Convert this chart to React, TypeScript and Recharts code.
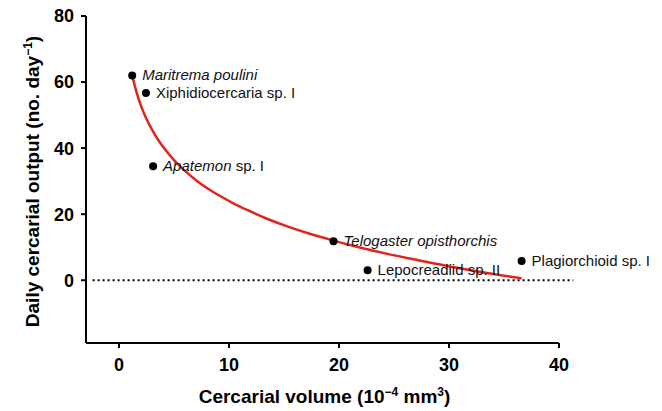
import React from "react";
import { ComposedChart, Line, Scatter, XAxis, YAxis, ReferenceLine } from "recharts";

// species points
const speciesItalic = ["Maritrema poulini", "", "Apatemon", "Telogaster opisthorchis", "", ""];
const speciesPlain = ["", "Xiphidiocercaria sp. I", " sp. I", "", "Lepocreadiid sp. II", "Plagiorchioid sp. I"];
const speciesVolume = [1.2, 2.45, 3.1, 19.5, 22.6, 36.6];
const speciesOutput = [62, 56.7, 34.5, 11.8, 3, 5.8];

// fitted curve
const curveVolume = [1.2, 1.4, 1.6, 1.85, 2.15, 2.5, 3.0, 3.6, 4.3, 5.1, 6.0, 7.0, 8.1, 9.2, 10.4, 11.7, 13.4, 15.3, 17.4, 19.5, 21.9, 24.5, 27.3, 30.2, 33.3, 36.6];
const curveOutput = [62, 59.3, 56.9, 54.2, 51.5, 48.8, 45.6, 42.3, 39.1, 36.0, 33.1, 30.3, 27.7, 25.5, 23.3, 21.2, 18.7, 16.3, 14.0, 12.0, 9.9, 7.9, 6.0, 4.1, 2.3, 0.6];

const xTicks = [0, 10, 20, 30, 40];
const yTicks = [0, 20, 40, 60, 80];

const FONT = '"Liberation Sans", Arial, Helvetica, sans-serif';

const points = speciesVolume.map((x, i) => ({
  x,
  y: speciesOutput[i],
  italic: speciesItalic[i],
  plain: speciesPlain[i],
}));
const curve = curveVolume.map((x, i) => ({ x, y: curveOutput[i] }));

function SpeciesDot(props: any) {
  const { cx, cy, payload } = props;
  return (
    <g>
      <circle cx={cx} cy={cy} r={4} fill="#000" />
      <text x={cx + 10} y={cy + 5} fontSize={15} fontFamily={FONT} fill="#111">
        {payload.italic && <tspan fontStyle="italic">{payload.italic}</tspan>}
        {payload.plain && <tspan>{payload.plain}</tspan>}
      </text>
    </g>
  );
}

function XTitle(props: any) {
  const { x, y, width } = props.viewBox;
  return (
    <text x={x + width / 2 + 2} y={y + 60} textAnchor="middle" fontSize={19} fontWeight="bold" fontFamily={FONT} fill="#000">
      <tspan>Cercarial volume (10</tspan>
      <tspan dy={-7} fontSize={12}>−4</tspan>
      <tspan dy={7}> mm</tspan>
      <tspan dy={-7} fontSize={12}>3</tspan>
      <tspan dy={7}>)</tspan>
    </text>
  );
}

function YTitle(props: any) {
  const { x, y, height } = props.viewBox;
  const cx = x + 13;
  const cy = y + height / 2 + 2;
  return (
    <text
      x={cx}
      y={cy}
      transform={`rotate(-90 ${cx} ${cy})`}
      textAnchor="middle"
      fontSize={19}
      fontWeight="bold"
      fontFamily={FONT}
      fill="#000"
    >
      <tspan>Daily cercarial output (no. day</tspan>
      <tspan dy={-7} fontSize={12}>−1</tspan>
      <tspan dy={7}>)</tspan>
    </text>
  );
}

export default function App() {
  const tick = { fill: "#000", fontSize: 18, fontWeight: "bold", fontFamily: FONT };
  return (
    <div style={{ position: "absolute", left: 0, top: 0, background: "#fff" }}>
      <ComposedChart width={662} height={411} margin={{ top: 16, right: 103, bottom: 28, left: 26 }}>
        <XAxis
          type="number"
          dataKey="x"
          domain={[-3, 40]}
          ticks={xTicks}
          height={40}
          tick={tick}
          tickSize={5}
          tickMargin={10}
          axisLine={{ stroke: "#000", strokeWidth: 2 }}
          tickLine={{ stroke: "#000", strokeWidth: 2 }}
          label={{ content: XTitle }}
        />
        <YAxis
          type="number"
          dataKey="y"
          domain={[-19, 80]}
          ticks={yTicks}
          width={60}
          tick={tick}
          tickSize={5}
          tickMargin={7}
          axisLine={{ stroke: "#000", strokeWidth: 2 }}
          tickLine={{ stroke: "#000", strokeWidth: 2 }}
          label={{ content: YTitle }}
        />
        <ReferenceLine
          segment={[{ x: -2.4, y: 0 }, { x: 41.3, y: 0 }]}
          ifOverflow="visible"
          stroke="#000"
          strokeWidth={2}
          strokeDasharray="2 3"
        />
        <Line
          data={curve}
          dataKey="y"
          type="monotone"
          stroke="#e3241b"
          strokeWidth={2.5}
          dot={false}
          activeDot={false}
          isAnimationActive={false}
        />
        <Scatter data={points} dataKey="y" shape={SpeciesDot} isAnimationActive={false} />
      </ComposedChart>
    </div>
  );
}
